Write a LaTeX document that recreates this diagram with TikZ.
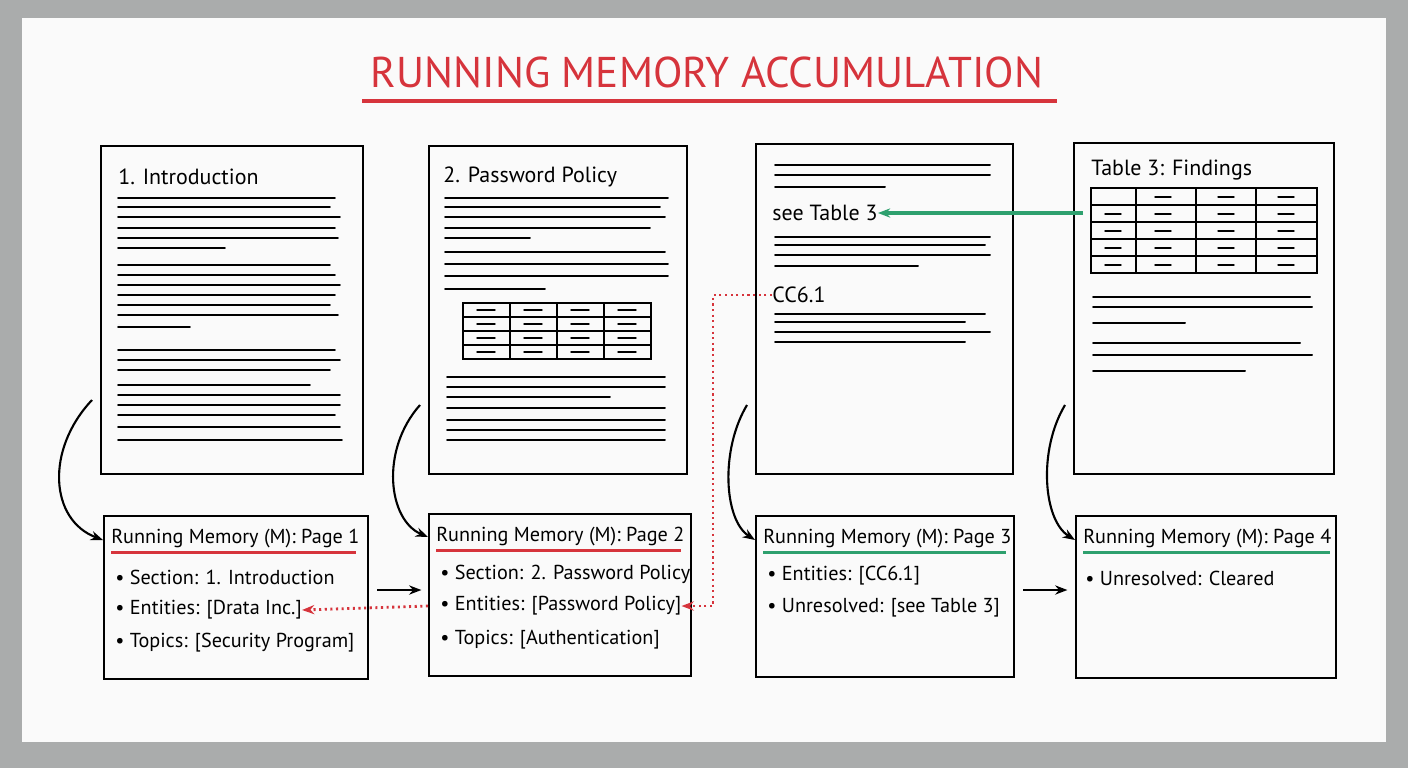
\documentclass[tikz,border=0pt]{standalone}
\usepackage{fontspec}
\setmainfont{PT Sans}
\usetikzlibrary{arrows.meta,positioning}
\definecolor{boardred}{RGB}{214,52,60}
\definecolor{boardgreen}{RGB}{46,160,110}
\definecolor{frame}{RGB}{170,172,172}

\tikzstyle{page} = [rectangle, draw=black, line width=1.4pt, anchor=north west, inner sep=0pt]
\tikzstyle{mem} = [rectangle, draw=black, line width=1.4pt, anchor=north west, inner sep=0pt]
\tikzstyle{txt} = [anchor=west, inner sep=0pt, font=\fontsize{11.5}{13}\selectfont]
\tikzstyle{scrib} = [line width=1.1pt, line cap=round]
\tikzstyle{arrow} = [line width=1.2pt,-{Stealth[length=7pt]}]

\begin{document}
\begin{tikzpicture}[x={(0.02cm,0)},y={(0,-0.02cm)}]
    \useasboundingbox (0,0) rectangle (1408,768);
    % board
    \fill[frame] (0,0) rectangle (1408,768);
    \fill[white!96!gray] (22,18) rectangle (1386,742);
    \node[font=\fontsize{24.5}{28}\selectfont, text=boardred] (title) at (707,72) {RUNNING MEMORY ACCUMULATION};
    \draw[boardred, line width=2pt] (362,101) -- (1057,101);

    % pages
    \node[page, minimum width=5.24cm, minimum height=6.56cm] (P1) at (100,145) {};
    \node[page, minimum width=5.16cm, minimum height=6.56cm] (P2) at (428,145) {};
    \node[page, minimum width=5.14cm, minimum height=6.6cm] (P3) at (755,143) {};
    \node[page, minimum width=5.2cm, minimum height=6.62cm] (P4) at (1073,142) {};
    \node[txt, font=\fontsize{12.5}{14}\selectfont] (h1) at (118,177) {1. Introduction};
    \node[txt, font=\fontsize{12.5}{14}\selectfont] (h2) at (443,177) {2. Password Policy};
    \node[txt, font=\fontsize{12.5}{14}\selectfont] (h4) at (1091,170) {Table 3: Findings};
    \node[txt, font=\fontsize{12.5}{14}\selectfont] (see) at (772,213) {see Table 3};
    \node[txt, font=\fontsize{12.5}{14}\selectfont] (cc) at (772,295) {CC6.1};

    % scribbled text lines
    \foreach \y/\a/\b in {198/118/335, 207/118/330, 217/118/340, 228/118/335, 238/118/338, 248/118/225,
        265/118/330, 275/118/335, 285/118/340, 295/118/335, 305/118/330, 315/118/338, 327/118/190,
        350/118/335, 360/118/340, 370/118/330, 385/118/310, 395/118/340, 405/118/340, 415/118/335, 427/118/340, 440/118/342,
        198/445/668, 207/445/660, 217/445/665, 228/445/650, 238/445/530, 252/445/665, 264/445/668, 276/445/668, 289/445/545,
        377/447/665, 387/447/665, 397/447/610, 408/447/665, 420/447/665, 430/447/665, 440/447/665,
        165/775/990, 175/775/990, 187/775/885, 237/775/990, 245/775/985, 255/775/990, 266/775/918,
        314/775/985, 322/775/965, 332/775/990, 342/775/965,
        297/1093/1310, 307/1093/1312, 323/1093/1185, 343/1093/1300, 355/1093/1312, 371/1093/1245}
        \draw[scrib] (\a,\y) -- (\b,\y);
    % tables
    \draw[line width=1pt] (463,303) rectangle (651,359);
    \foreach \x in {510,557,604} \draw[line width=1pt] (\x,303) -- (\x,359);
    \foreach \y in {317,331,345} \draw[line width=1pt] (463,\y) -- (651,\y);
    \draw[line width=1pt] (1091,188) rectangle (1317,273);
    \foreach \x in {1136,1196,1256} \draw[line width=1pt] (\x,188) -- (\x,273);
    \foreach \y in {205,222,239,256} \draw[line width=1pt] (1091,\y) -- (1317,\y);
    \foreach \c in {1163,1226,1286} \draw[scrib, line width=0.8pt] (\c-8,197) -- (\c+8,197);
    \foreach \c in {1113,1163,1226,1286} \foreach \y in {214,231,248,265}
        \draw[scrib, line width=0.8pt] (\c-8,\y) -- (\c+8,\y);
    \foreach \c in {486,533,580,627} \foreach \y in {310,324,338,352}
        \draw[scrib, line width=0.8pt] (\c-9,\y) -- (\c+9,\y);

    % memory boxes
    \node[mem, minimum width=5.28cm, minimum height=3.26cm] (M1) at (103,515) {};
    \node[mem, minimum width=5.24cm, minimum height=3.24cm] (M2) at (428,513) {};
    \node[mem, minimum width=5.16cm, minimum height=3.22cm] (M3) at (755,515) {};
    \node[mem, minimum width=5.2cm, minimum height=3.24cm] (M4) at (1075,515) {};
    \node[txt] (t1) at (111,539) {Running Memory (M): Page 1};
    \node[txt] (t2) at (436,537) {Running Memory (M): Page 2};
    \node[txt] (t3) at (763,539) {Running Memory (M): Page 3};
    \node[txt] (t4) at (1083,539) {Running Memory (M): Page 4};
    \draw[boardred, line width=1.6pt] (t1.south west) ++(0,4) -- ++(245,0);
    \draw[boardred, line width=1.6pt] (t2.south west) ++(0,4) -- ++(245,0);
    \draw[boardgreen, line width=1.6pt] (t3.south west) ++(0,4) -- ++(243,0);
    \draw[boardgreen, line width=1.6pt] (t4.south west) ++(0,4) -- ++(247,0);
    \node[txt] (a1) at (115,577) {• Section: 1. Introduction};
    \node[txt] (b1) at (115,610) {• Entities: [Drata Inc.]};
    \node[txt] (c1) at (115,643) {• Topics: [Security Program]};
    \node[txt] (a2) at (440,574) {• Section: 2. Password Policy};
    \node[txt] (b2) at (440,606) {• Entities: [Password Policy]};
    \node[txt] (c2) at (440,640) {• Topics: [Authentication]};
    \node[txt] (a3) at (767,576) {• Entities: [CC6.1]};
    \node[txt] (b3) at (767,608) {• Unresolved: [see Table 3]};
    \node[txt] (a4) at (1085,578) {• Unresolved: Cleared};

    % flow arrows
    \draw[arrow] (P1.west |- 0,400) ++(-8,0) .. controls (45,450) and (50,520) .. (M1.west |- 0,540);
    \draw[arrow] (P2.west |- 0,405) ++(-8,0) .. controls (380,450) and (388,520) .. (M2.west |- 0,537);
    \draw[arrow] (P3.west |- 0,405) ++(-8,0) .. controls (720,450) and (724,520) .. (M3.west |- 0,540);
    \draw[arrow] (P4.west |- 0,405) ++(-8,0) .. controls (1038,450) and (1043,520) .. (M4.west |- 0,540);
    \draw[arrow] (M1.east |- 0,590) ++(8,0) -- ++(44,0);
    \draw[arrow] (M3.east |- 0,590) ++(8,0) -- ++(44,0);
    % references
    \draw[arrow, boardgreen, line width=2pt] (see.east -| 1083,0) -- (see.east);
    \draw[arrow, boardred, dotted, line width=1.6pt] (M2.west |- b2) -- (b1.east);
    \coordinate (cor) at (713,295);
    \draw[arrow, boardred, dotted, line width=1.6pt] (cc.west) -- (cor) -- (cor |- b2) -- (b2.east);
\end{tikzpicture}
\end{document}
